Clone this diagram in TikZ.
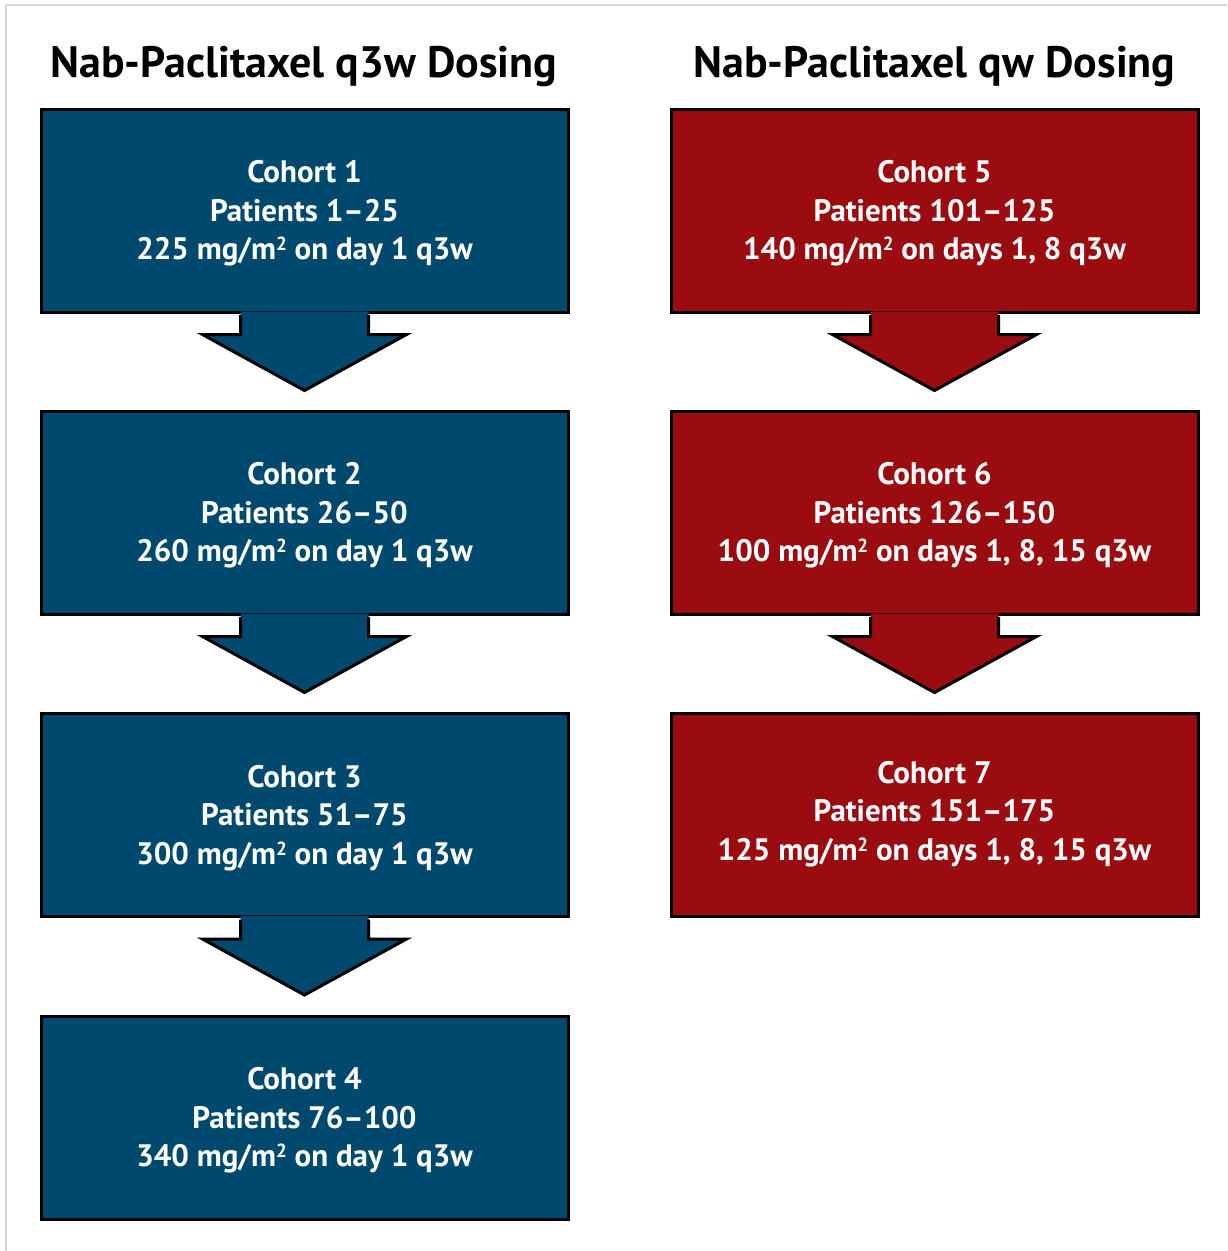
\documentclass[tikz,border=0pt]{standalone}
\usepackage{fontspec}
\setmainfont{PT Sans}
\usetikzlibrary{calc}
\definecolor{cblue}{RGB}{0,73,110}
\definecolor{cred}{RGB}{155,12,17}
\definecolor{frame}{RGB}{214,214,210}
\newcommand\sqtwo{\raisebox{9pt}{\fontsize{19}{19}\selectfont 2}}
\tikzset{
  cohort/.style={draw=black, line width=3pt, minimum width=527pt, minimum height=203pt,
    inner sep=0pt, text=white, align=center, font=\bfseries\fontsize{31}{38.5}\selectfont},
  bluebox/.style={cohort, fill=cblue},
  redbox/.style={cohort, fill=cred},
  heading/.style={font=\bfseries\fontsize{44}{50}\selectfont, text=black, inner sep=0pt},
  arrline/.style={draw=black, line width=3pt, line join=miter}
}
\newcommand\blockarr[2]{%
  \fill[#2] ($(#1.south)+(-64,-2)$) -- ($(#1.south)+(-64,21)$) -- ($(#1.south)+(-102,21)$)
     -- ($(#1.south)+(0,77)$) -- ($(#1.south)+(102,21)$) -- ($(#1.south)+(64,21)$)
     -- ($(#1.south)+(64,-2)$) -- cycle;
  \draw[arrline] ($(#1.south)+(-64,1.5)$) -- ($(#1.south)+(-64,21)$) -- ($(#1.south)+(-102,21)$)
     -- ($(#1.south)+(0,77)$) -- ($(#1.south)+(102,21)$) -- ($(#1.south)+(64,21)$)
     -- ($(#1.south)+(64,1.5)$);
}
\begin{document}
\begin{tikzpicture}[x=1pt, y=-1pt]
\useasboundingbox (0,0) rectangle (1227,1251);
\fill[white] (0,0) rectangle (1227,1251);
\draw[frame, line width=2pt] (1227,5) -- (6,5) -- (6,1251);

\node[heading, anchor=base] (t1) at (304,77) {Nab-Paclitaxel q3w Dosing};
\node[heading, anchor=base] (t2) at (934.5,77) {Nab-Paclitaxel qw Dosing};

\node[bluebox] (c1) at (304.5,210.5) {};
\node[bluebox] (c2) at (304.5,512.5) {};
\node[bluebox] (c3) at (304.5,815) {};
\node[bluebox] (c4) at (304.5,1117.5) {};
\node[redbox] (c5) at (934.5,210.5) {};
\node[redbox] (c6) at (934.5,512.5) {};
\node[redbox] (c7) at (934.5,815) {};

\tikzset{lbl/.style={text=white, align=center, inner sep=0pt, font=\bfseries\fontsize{31}{38.5}\selectfont}}
\node[lbl] (l1) at ($(c1.center)+(0,3)$) {Cohort 1\\Patients 1--25\\225 mg/m\sqtwo{} on day 1 q3w};
\node[lbl] (l2) at ($(c2.center)+(0,3)$) {Cohort 2\\Patients 26--50\\260 mg/m\sqtwo{} on day 1 q3w};
\node[lbl] (l3) at ($(c3.center)+(0,3)$) {Cohort 3\\Patients 51--75\\300 mg/m\sqtwo{} on day 1 q3w};
\node[lbl] (l4) at ($(c4.center)+(0,3)$) {Cohort 4\\Patients 76--100\\340 mg/m\sqtwo{} on day 1 q3w};
\node[lbl] (l5) at ($(c5.center)+(0,3)$) {Cohort 5\\Patients 101--125\\140 mg/m\sqtwo{} on days 1, 8 q3w};
\node[lbl] (l6) at ($(c6.center)+(0,3)$) {Cohort 6\\Patients 126--150\\100 mg/m\sqtwo{} on days 1, 8, 15 q3w};
\node[lbl] (l7) at ($(c7.center)+(0,-1)$) {Cohort 7\\Patients 151--175\\125 mg/m\sqtwo{} on days 1, 8, 15 q3w};

\blockarr{c1}{cblue}
\blockarr{c2}{cblue}
\blockarr{c3}{cblue}
\blockarr{c5}{cred}
\blockarr{c6}{cred}
\end{tikzpicture}
\end{document}
